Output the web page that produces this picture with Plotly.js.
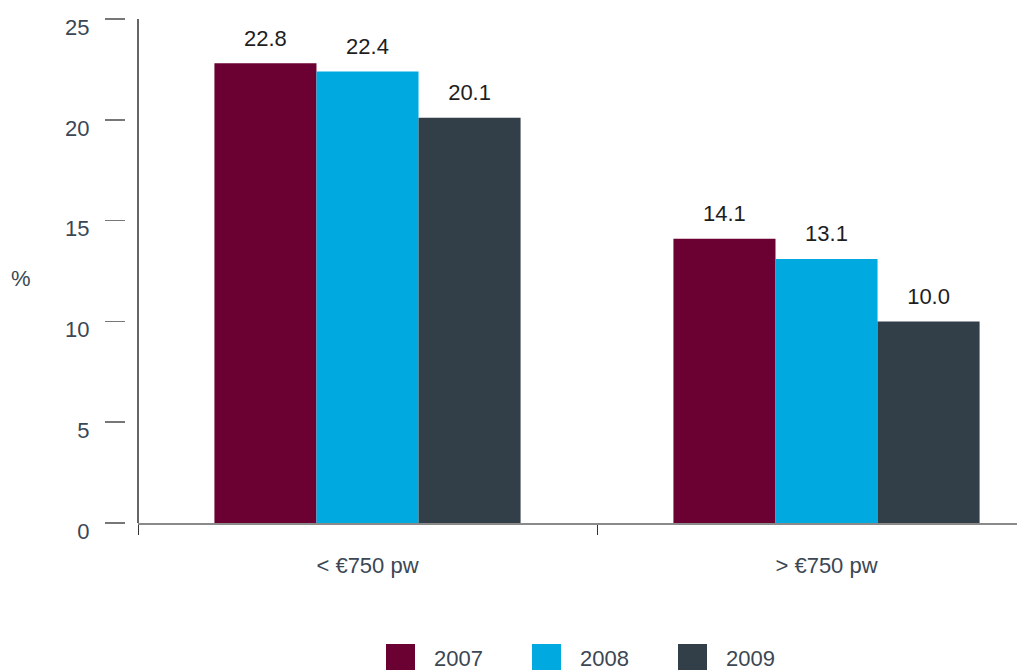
<!DOCTYPE html>
<html>
<head>
<meta charset="utf-8">
<script src="https://cdn.plot.ly/plotly-3.0.1.min.js"></script>
<style>html,body{margin:0;padding:0;background:#fff;}#chart{width:1017px;height:670px;}</style>
</head>
<body>
<div id="chart"></div>
<script>
// ---- data ----
var categories = ['< €750 pw', '> €750 pw'];
var years = ['2007', '2008', '2009'];
var values2007 = [22.8, 14.1];
var values2008 = [22.4, 13.1];
var values2009 = [20.1, 10.0];
var yTickVals = [0, 5, 10, 15, 20, 25];
var yTickText = ['0', '5', '10', '15', '20', '25'];
var yLabel = '%';

// ---- styles ----
var colors = ['#6b0033', '#00a9e0', '#333f48'];
var seriesValues = [values2007, values2008, values2009];
var W = 1017, H = 670;
var M = {l: 0, r: 0, t: 19, b: 147};
var PW = W - M.l - M.r, PH = H - M.t - M.b;
function px(x) { return (x - M.l) / PW; }
function py(y) { return (H - M.b - y) / PH; }
var FONT = 'Liberation Sans, Arial, Helvetica, sans-serif';
var TXT = '#3b4754';
var FS = 22;

var traces = [];
years.forEach(function (yr, i) {
  traces.push({
    type: 'bar', name: yr, x: categories, y: seriesValues[i],
    marker: {color: colors[i]}, hoverinfo: 'x+y+name', showlegend: false
  });
});
years.forEach(function (yr, i) {
  traces.push({
    type: 'scatter', mode: 'markers+text', name: yr + ' labels', x: categories, y: seriesValues[i],
    text: seriesValues[i].map(function (v) { return v.toFixed(1); }),
    textposition: 'top center', cliponaxis: false,
    marker: {size: 18, color: 'rgba(0,0,0,0)'},
    textfont: {family: FONT, size: 22, color: '#1e1e1e'},
    hoverinfo: 'skip', showlegend: false
  });
});

var shapes = [{
  type: 'line', xref: 'x domain', yref: 'y', x0: 0, x1: 0, y0: 0, y1: 25,
  line: {color: '#333', width: 1.5}
}];
var annotations = [{
  text: yLabel, xref: 'paper', yref: 'paper', x: px(21), y: py(278),
  xanchor: 'center', yanchor: 'middle', showarrow: false,
  font: {family: FONT, size: FS, color: TXT}
}];
var legX0 = 386, legStep = 146, legY = 658;
years.forEach(function (yr, i) {
  var x0 = legX0 + i * legStep;
  shapes.push({
    type: 'rect', xref: 'paper', yref: 'paper',
    x0: px(x0), x1: px(x0 + 29), y0: py(644), y1: py(671),
    fillcolor: colors[i], line: {width: 0}
  });
  annotations.push({
    text: yr, xref: 'paper', yref: 'paper', x: px(x0 + 46), y: py(legY),
    xanchor: 'left', yanchor: 'middle', showarrow: false,
    font: {family: FONT, size: FS, color: TXT}
  });
});

var layout = {
  width: W, height: H, margin: M,
  paper_bgcolor: '#fff', plot_bgcolor: '#fff',
  barmode: 'group', bargap: 0.333, bargroupgap: 0,
  scattermode: 'group', scattergap: 0.333,
  showlegend: false,
  font: {family: FONT, size: FS, color: TXT},
  xaxis: {
    domain: [px(138), 1], range: [-0.5, 1.415], type: 'category',
    showline: true, linecolor: '#8a8a8a', linewidth: 1.5,
    ticks: 'outside', tickson: 'boundaries', ticklen: 10, tickcolor: '#333', tickwidth: 1,
    tickfont: {family: FONT, size: FS, color: TXT}, ticklabelstandoff: 22,
    showgrid: false, zeroline: false, fixedrange: true
  },
  yaxis: {
    anchor: 'free', position: px(125), side: 'left',
    range: [0, 25], tickvals: yTickVals, ticktext: yTickText,
    ticks: 'outside', ticklen: 20, tickcolor: '#777', tickwidth: 1.5,
    tickfont: {family: FONT, size: FS, color: TXT}, ticklabelstandoff: 11, ticklabelshift: 8,
    showline: false, showgrid: false, zeroline: false, fixedrange: true
  },
  shapes: shapes,
  annotations: annotations
};

Plotly.newPlot('chart', traces, layout, {displayModeBar: false, staticPlot: true});
</script>
</body>
</html>
